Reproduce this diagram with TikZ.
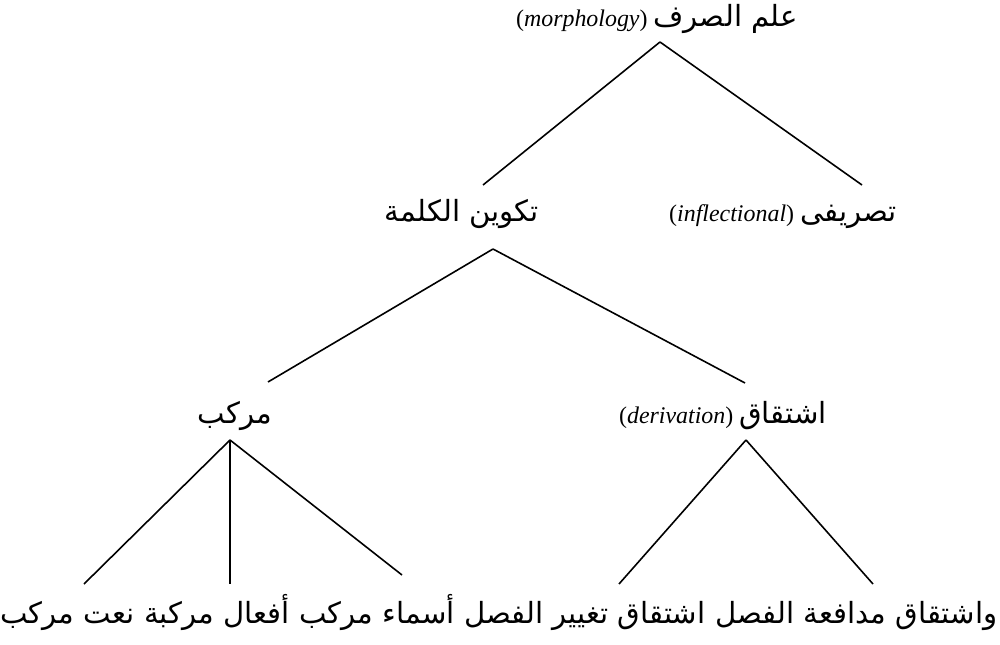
\documentclass[tikz,border=0pt]{standalone}
\usepackage{fontspec}
\setmainfont{Liberation Serif}
\newfontfamily\arabicfont[Script=Arabic,Scale=1.22]{DejaVu Sans}
\TeXXeTstate=1
\usepackage{tikz}
\usetikzlibrary{positioning}

\tikzset{lbl/.style={anchor=base,inner sep=0pt,font=\fontsize{12}{14}\selectfont}}

\begin{document}
\begin{tikzpicture}[x=0.5bp,y=-0.5bp,line width=0.8pt,line join=bevel,node distance=4bp]
\useasboundingbox (0,0) rectangle (1000,645);
%%
\node (sarf) at (657,27) [lbl] {(\textit{morphology}) {\arabicfont\beginR علم الصرف\endR}};
  \node (kalima) at (462,222) [lbl] {\arabicfont\beginR تكوين الكلمة\endR};
  \node (tasrif) at (783,222) [lbl] {(\textit{inflectional}) {\arabicfont\beginR تصريفى\endR}};
  \node (murakkab) at (235,423) [lbl] {\arabicfont\beginR مركب\endR};
  \node (ishtiqaq) at (723,423) [lbl] {(\textit{derivation}) {\arabicfont\beginR اشتقاق\endR}};
  \node (mudafaa) at (998,623) [lbl,anchor=base east] {\arabicfont\beginR واشتقاق مدافعة الفصل\endR};
  \node (taghyir) [lbl,base left=of mudafaa] {\arabicfont\beginR اشتقاق تغيير الفصل\endR};
  \node (asma) [lbl,base left=of taghyir] {\arabicfont\beginR أسماء مركب\endR};
  \node (afal) [lbl,base left=of asma] {\arabicfont\beginR أفعال مركبة\endR};
  \node (naat) [lbl,base left=of afal] {\arabicfont\beginR نعت مركب\endR};
%
  \coordinate (sarf-b) at (660,42);
  \coordinate (kalima-t) at (483,185);
  \coordinate (kalima-b) at (493,249);
  \coordinate (tasrif-t) at (862,185);
  \coordinate (murakkab-t) at (268,382);
  \coordinate (murakkab-b) at (230,440);
  \coordinate (ishtiqaq-t) at (745,383);
  \coordinate (ishtiqaq-b) at (746,440);
  \coordinate (naat-t) at (84,584);
  \coordinate (afal-t) at (230,584);
  \coordinate (asma-t) at (402,575);
  \coordinate (taghyir-t) at (619,584);
  \coordinate (mudafaa-t) at (873,584);
%
  \draw [] (sarf-b) -- (kalima-t);
  \draw [] (sarf-b) -- (tasrif-t);
  \draw [] (kalima-b) -- (murakkab-t);
  \draw [] (kalima-b) -- (ishtiqaq-t);
  \draw [] (murakkab-b) -- (naat-t);
  \draw [] (murakkab-b) -- (afal-t);
  \draw [] (murakkab-b) -- (asma-t);
  \draw [] (ishtiqaq-b) -- (taghyir-t);
  \draw [] (ishtiqaq-b) -- (mudafaa-t);
%
\end{tikzpicture}
\end{document}
